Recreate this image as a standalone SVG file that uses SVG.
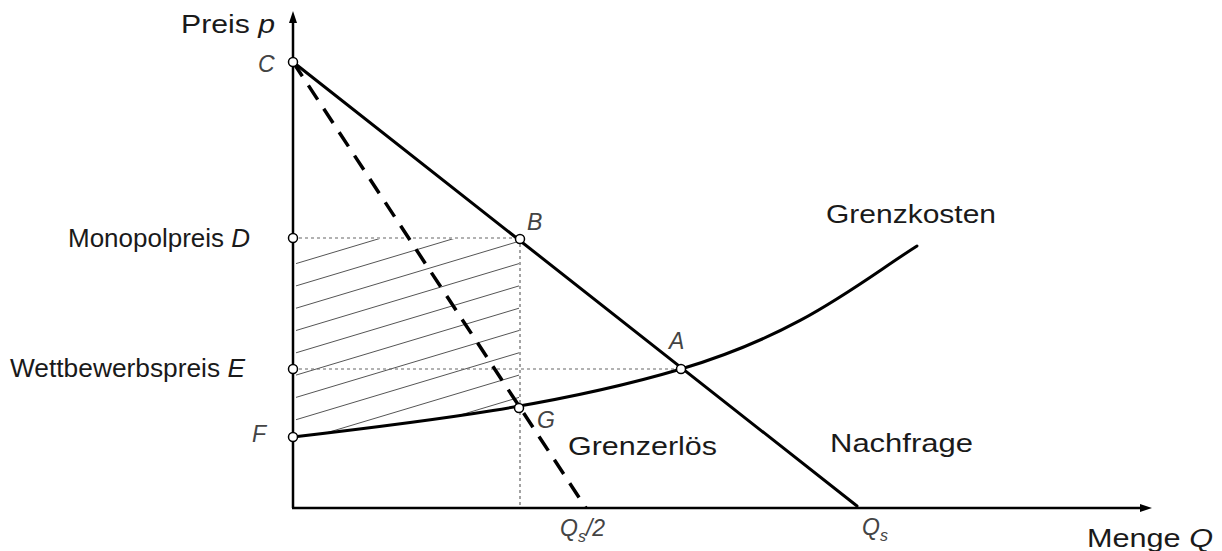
<svg xmlns="http://www.w3.org/2000/svg" width="1222" height="551" viewBox="0 0 1222 551">
<defs>
<style>
.t{font-family:"Liberation Sans",Arial,sans-serif;font-size:25px;fill:#1a1a1a}
.l{font-family:"Liberation Sans",Arial,sans-serif;font-size:23px;font-style:italic;fill:#444}
.i{font-style:italic}
.dot{fill:#fff;stroke:#000;stroke-width:1.5}
.axis{stroke:#000;stroke-width:2.5;fill:none}
.curve{stroke:#000;stroke-width:3;fill:none;stroke-linecap:round}
.dash{stroke:#000;stroke-width:3.5;fill:none;stroke-dasharray:17 11}
.guide{stroke:#666;stroke-width:1.2;fill:none;stroke-dasharray:3 3}
.hatch{stroke:#555;stroke-width:1;fill:none}
</style>
<clipPath id="hclip"><polygon points="296,239 519,239 519,408 296,437"/></clipPath>
</defs>
<rect width="1222" height="551" fill="#fff"/>

<g id="hatching" clip-path="url(#hclip)">
<line class="hatch" x1="290" y1="265.4" x2="525" y2="194.9"/>
<line class="hatch" x1="290" y1="287.7" x2="525" y2="217.2"/>
<line class="hatch" x1="290" y1="310.0" x2="525" y2="239.5"/>
<line class="hatch" x1="290" y1="332.3" x2="525" y2="261.8"/>
<line class="hatch" x1="290" y1="354.6" x2="525" y2="284.1"/>
<line class="hatch" x1="290" y1="376.9" x2="525" y2="306.4"/>
<line class="hatch" x1="290" y1="399.2" x2="525" y2="328.7"/>
<line class="hatch" x1="290" y1="421.5" x2="525" y2="351.0"/>
<line class="hatch" x1="290" y1="443.8" x2="525" y2="373.3"/>
<line class="hatch" x1="290" y1="466.1" x2="525" y2="395.6"/>
</g>

<g id="connectors">
<line class="guide" x1="293" y1="238" x2="520" y2="238"/>
<line class="guide" x1="293" y1="369" x2="681" y2="369"/>
<line class="guide" x1="520" y1="238" x2="520" y2="508"/>
<line class="axis" x1="293" y1="508" x2="293" y2="20"/>
<polygon points="293,11 289,23 297,23" fill="#000"/>
<line class="axis" x1="292" y1="508" x2="1142" y2="508"/>
<polygon points="1152,508 1140,504 1140,512" fill="#000"/>
<line id="nachfrage-line" class="curve" x1="293" y1="62" x2="857" y2="506"/>
<line id="grenzerloes-line" class="dash" x1="293" y1="62" x2="586" y2="508"/>
<path id="grenzkosten-line" class="curve" d="M293,437 C430,421 560,405 681,369 S860,282 917,246"/>
</g>

<g id="axis-labels">
<text class="t" x="181" y="33" textLength="94" lengthAdjust="spacingAndGlyphs">Preis <tspan class="i">p</tspan></text>
<text class="t" x="1087" y="547" textLength="126" lengthAdjust="spacingAndGlyphs">Menge <tspan class="i">Q</tspan></text>
</g>

<g id="node-C"><circle class="dot" cx="293" cy="62" r="4.5"/><text class="l" x="258" y="72">C</text></g>
<g id="node-D"><circle class="dot" cx="293" cy="238" r="4.5"/><text class="t" x="68" y="247" textLength="182" lengthAdjust="spacingAndGlyphs">Monopolpreis <tspan class="i">D</tspan></text></g>
<g id="node-E"><circle class="dot" cx="293" cy="369" r="4.5"/><text class="t" x="10" y="377" textLength="235" lengthAdjust="spacingAndGlyphs">Wettbewerbspreis <tspan class="i">E</tspan></text></g>
<g id="node-F"><circle class="dot" cx="293" cy="437" r="4.5"/><text class="l" x="252" y="442">F</text></g>
<g id="node-B"><circle class="dot" cx="520" cy="239" r="4.5"/><text class="l" x="527" y="230">B</text></g>
<g id="node-A"><circle class="dot" cx="681" cy="369" r="4.5"/><text class="l" x="669" y="349">A</text></g>
<g id="node-G"><circle class="dot" cx="519" cy="408" r="4.5"/><text class="l" x="537" y="428">G</text></g>

<g id="curve-labels">
<text class="t" x="826" y="223" textLength="170" lengthAdjust="spacingAndGlyphs">Grenzkosten</text>
<text class="t" x="568" y="455" textLength="149" lengthAdjust="spacingAndGlyphs">Grenzerlös</text>
<text class="t" x="830" y="452" textLength="143" lengthAdjust="spacingAndGlyphs">Nachfrage</text>
</g>

<g id="tick-labels">
<text class="l" x="560" y="536">Q<tspan font-size="16" dy="6">s</tspan><tspan dy="-6">/2</tspan></text>
<text class="l" x="862" y="535">Q<tspan font-size="16" dy="6">s</tspan></text>
</g>
</svg>
